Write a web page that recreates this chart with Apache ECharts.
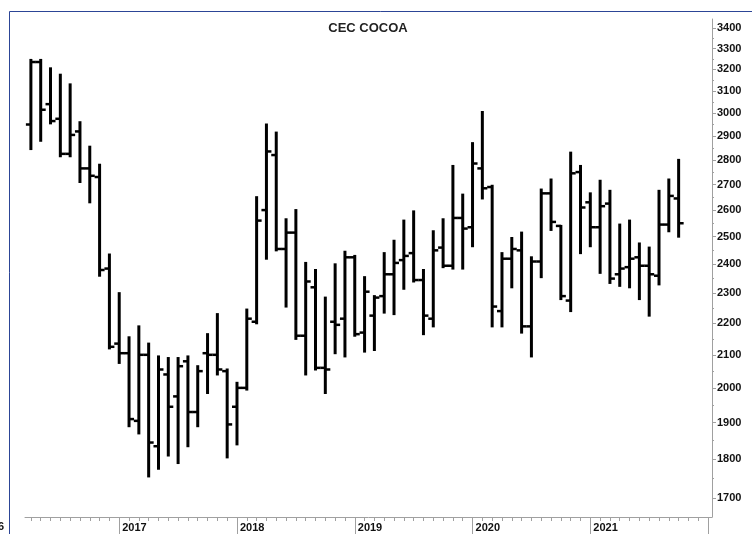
<!DOCTYPE html>
<html>
<head>
<meta charset="utf-8">
<title>CEC COCOA</title>
<script src="https://cdn.jsdelivr.net/npm/echarts@6/dist/echarts.min.js"></script>
<style>
html, body { margin: 0; padding: 0; background: #fff; }
#chart-cocoa { width: 752px; height: 534px; }
</style>
</head>
<body>
<div id="chart-cocoa"></div>
<script>
/*------------------------------------------------------------月线数据----------------------------------------------------*/
var months = [ '2016-04', '2016-05', '2016-06', '2016-07', '2016-08', '2016-09', '2016-10', '2016-11', '2016-12',
		'2017-01', '2017-02', '2017-03', '2017-04', '2017-05', '2017-06', '2017-07', '2017-08', '2017-09', '2017-10', '2017-11', '2017-12',
		'2018-01', '2018-02', '2018-03', '2018-04', '2018-05', '2018-06', '2018-07', '2018-08', '2018-09', '2018-10', '2018-11', '2018-12',
		'2019-01', '2019-02', '2019-03', '2019-04', '2019-05', '2019-06', '2019-07', '2019-08', '2019-09', '2019-10', '2019-11', '2019-12',
		'2020-01', '2020-02', '2020-03', '2020-04', '2020-05', '2020-06', '2020-07', '2020-08', '2020-09', '2020-10', '2020-11', '2020-12',
		'2021-01', '2021-02', '2021-03', '2021-04', '2021-05', '2021-06', '2021-07', '2021-08', '2021-09', '2021-10' ];
var opens = [ 2950, 3235, 3040, 2975, 2825, 2920, 2765, 2730, 2385,
		2135, 2105, 1905, 2100, 1835, 2040, 1975, 2080, 1930, 2105, 2100, 2050,
		1945, 2000, 2205, 2600, 2820, 2455, 2515, 2160, 2320, 2060, 2205, 2215,
		2425, 2170, 2225, 2290, 2365, 2415, 2440, 2345, 2215, 2460, 2395, 2570,
		2535, 2765, 2690, 2240, 2420, 2450, 2190, 2410, 2665, 2540, 2275, 2750,
		2630, 2535, 2625, 2365, 2390, 2425, 2395, 2360, 2545, 2645 ];
var highs = [ 3245, 3245, 3205, 3175, 3130, 2960, 2855, 2780, 2435,
		2300, 2155, 2190, 2135, 2095, 2090, 2090, 2095, 2065, 2165, 2230, 2055,
		2015, 2245, 2650, 2950, 2915, 2565, 2600, 2405, 2380, 2285, 2400, 2445,
		2430, 2355, 2290, 2440, 2485, 2560, 2595, 2380, 2520, 2565, 2775, 2660,
		2870, 3005, 2695, 2440, 2495, 2515, 2425, 2680, 2720, 2540, 2830, 2775,
		2665, 2715, 2675, 2545, 2560, 2475, 2460, 2675, 2720, 2800 ];
var lows = [ 2845, 2880, 2955, 2815, 2815, 2710, 2630, 2360, 2120,
		2075, 1890, 1870, 1755, 1775, 1810, 1790, 1835, 1890, 1985, 2040, 1805,
		1840, 1995, 2200, 2420, 2450, 2255, 2150, 2040, 2055, 1985, 2105, 2095,
		2160, 2110, 2115, 2235, 2230, 2315, 2340, 2165, 2190, 2390, 2385, 2385,
		2465, 2645, 2190, 2190, 2320, 2170, 2095, 2355, 2525, 2280, 2240, 2440,
		2465, 2370, 2335, 2325, 2320, 2280, 2225, 2330, 2520, 2500 ];
var closes = [ 3235, 3015, 2965, 2825, 2905, 2765, 2735, 2380, 2125,
		2105, 1910, 2100, 1845, 2055, 1945, 2065, 1930, 2050, 2100, 2055, 1895,
		2000, 2215, 2560, 2835, 2455, 2515, 2160, 2340, 2060, 2055, 2195, 2425,
		2165, 2305, 2285, 2365, 2405, 2430, 2345, 2225, 2450, 2395, 2570, 2530,
		2785, 2685, 2255, 2420, 2455, 2190, 2410, 2665, 2555, 2290, 2745, 2610,
		2535, 2615, 2350, 2385, 2420, 2395, 2365, 2545, 2655, 2550 ];

// 纵轴刻度（对数刻度）
var priceTicks = [ 1700, 1800, 1900, 2000, 2100, 2200, 2300, 2400, 2500, 2600, 2700, 2800, 2900, 3000, 3100, 3200, 3300, 3400 ];
var priceMinorTicks = [ 1750, 1850, 1950, 2050, 2150, 2250, 2350, 2450, 2550, 2650, 2750, 2850, 2950, 3050, 3150, 3250, 3350 ];
// 横轴：以2016年1月为0的月序号
var yearTicks = [ 12, 24, 36, 48, 60, 72 ];
var yearLabels = [ 12, 24, 36, 48, 60 ];
var monthTicks = [];
for ( var i = 3; i <= 72; i++) {
	monthTicks.push(i);
}

function monthIndex(str) {
	var p = str.split('-');
	return (parseInt(p[0], 10) - 2016) * 12 + parseInt(p[1], 10) - 1;
}

var barData = [];
for ( var i = 0; i < months.length; i++) {
	barData.push([ monthIndex(months[i]), opens[i], highs[i], lows[i], closes[i] ]);
}

/*------------------------------------------------------------美式K线（OHLC）----------------------------------------------------*/
function renderBar(params, api) {
	var x = api.value(0);
	var o = api.coord([ x, api.value(1) ]);
	var h = api.coord([ x, api.value(2) ]);
	var l = api.coord([ x, api.value(3) ]);
	var c = api.coord([ x, api.value(4) ]);
	var st = {
		stroke : '#000',
		lineWidth : 3,
		lineCap : 'butt'
	};
	return {
		type : 'group',
		children : [ {
			type : 'line',
			shape : { x1 : h[0], y1 : h[1] - 1, x2 : l[0], y2 : l[1] + 1 },
			style : st
		}, {
			type : 'line',
			shape : { x1 : o[0] - 5, y1 : o[1], x2 : o[0], y2 : o[1] },
			style : { stroke : '#000', lineWidth : 2.5 }
		}, {
			type : 'line',
			shape : { x1 : c[0], y1 : c[1], x2 : c[0] + 5, y2 : c[1] },
			style : { stroke : '#000', lineWidth : 2.5 }
		} ]
	};
}

var axisFont = {
	fontFamily : '"Liberation Sans", Arial, sans-serif',
	fontSize : 11,
	fontWeight : 'bold',
	color : '#111'
};
var yMin = 1653, yMax = 3447, xMin = 2.4, xMax = 72.4;

var option = {
	animation : false,
	backgroundColor : '#fff',
	grid : {
		left : 25,
		right : 40,
		top : 19,
		bottom : 17
	},
	xAxis : [ {
		type : 'value',
		min : xMin,
		max : xMax,
		position : 'bottom',
		splitLine : { show : false },
		axisLine : { onZero : false, lineStyle : { color : '#a0a0a0', width : 1 } },
		axisTick : { customValues : monthTicks, length : 4, lineStyle : { color : '#a0a0a0' } },
		axisLabel : {
			customValues : yearLabels,
			align : 'left',
			margin : 5,
			padding : [ 0, 0, 0, 3 ],
			fontFamily : axisFont.fontFamily,
			fontSize : 11,
			fontWeight : 'bold',
			color : '#111',
			formatter : function(v) {
				return String(2016 + Math.round(v / 12));
			}
		}
	}, {
		type : 'value',
		min : xMin,
		max : xMax,
		position : 'bottom',
		splitLine : { show : false },
		axisLine : { show : false, onZero : false },
		axisTick : { customValues : yearTicks, length : 17, lineStyle : { color : '#a0a0a0' } },
		axisLabel : { show : false }
	} ],
	yAxis : [ {
		type : 'log',
		min : yMin,
		max : yMax,
		position : 'right',
		splitLine : { show : false },
		axisLine : { show : true, onZero : false, lineStyle : { color : '#a0a0a0', width : 1 } },
		axisTick : { customValues : priceTicks, length : 4, lineStyle : { color : '#a0a0a0' } },
		axisLabel : {
			customValues : priceTicks,
			margin : 5,
			fontFamily : axisFont.fontFamily,
			fontSize : 11,
			fontWeight : 'bold',
			color : '#111',
			formatter : function(v) {
				return String(Math.round(v));
			}
		}
	}, {
		type : 'log',
		min : yMin,
		max : yMax,
		position : 'right',
		splitLine : { show : false },
		axisLine : { show : false, onZero : false },
		axisTick : { customValues : priceMinorTicks, length : 2, lineStyle : { color : '#a0a0a0' } },
		axisLabel : { show : false }
	} ],
	graphic : [ {
		type : 'line',
		shape : { x1 : 9.5, y1 : 11.5, x2 : 752, y2 : 11.5 },
		style : { stroke : '#2c4596', lineWidth : 1 }
	}, {
		type : 'line',
		shape : { x1 : 9.5, y1 : 11.5, x2 : 9.5, y2 : 534 },
		style : { stroke : '#2c4596', lineWidth : 1 }
	}, {
		type : 'text',
		x : 368,
		y : 28,
		style : {
			text : 'CEC COCOA',
			fontFamily : axisFont.fontFamily,
			fontSize : 13,
			fontWeight : 'bold',
			fill : '#222',
			align : 'center',
			verticalAlign : 'middle'
		}
	}, {
		type : 'text',
		x : 4,
		y : 527,
		style : {
			text : '2016',
			fontFamily : axisFont.fontFamily,
			fontSize : 11,
			fontWeight : 'bold',
			fill : '#111',
			align : 'right',
			verticalAlign : 'middle'
		}
	} ],
	series : [ {
		name : 'CEC COCOA',
		type : 'custom',
		xAxisIndex : 0,
		yAxisIndex : 0,
		renderItem : renderBar,
		encode : { x : 0, y : [ 1, 2, 3, 4 ] },
		data : barData
	} ]
};

var myChart = echarts.init(document.getElementById('chart-cocoa'));
myChart.setOption(option);
window.onresize = myChart.resize;
</script>
</body>
</html>
